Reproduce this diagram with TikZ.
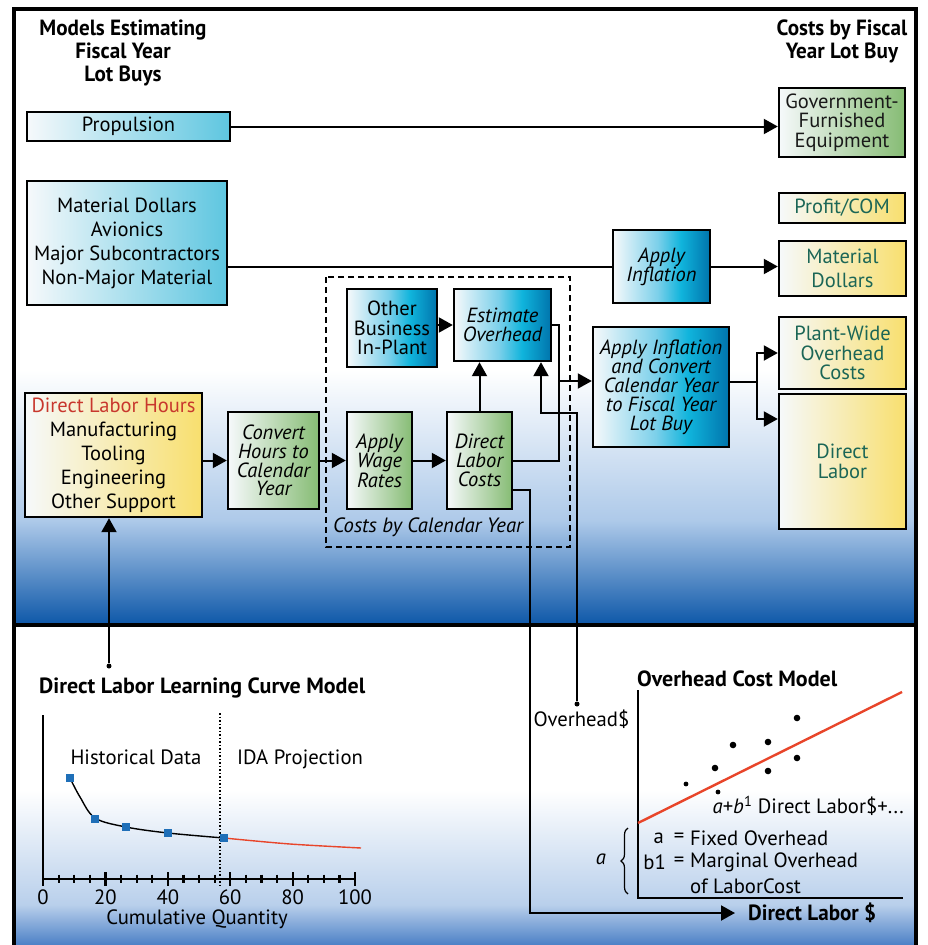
\documentclass[tikz,border=0pt]{standalone}
\usepackage{fontspec}
\setmainfont{PT Sans}
\newfontfamily\headfont[FakeStretch=0.96]{PT Sans}
\usetikzlibrary{arrows.meta,decorations.pathreplacing}

\definecolor{cyanR}{HTML}{5EC6E0}
\definecolor{greenR}{HTML}{86BC74}
\definecolor{yellowR}{HTML}{F8DF6E}
\definecolor{tealtext}{HTML}{1B6656}
\definecolor{redtext}{HTML}{C8372D}
\definecolor{bwhite}{HTML}{F6F9FB}
\definecolor{bmid}{HTML}{7CD0EA}
\definecolor{bcyan}{HTML}{10B4DC}
\definecolor{bdark}{HTML}{0074AC}
\definecolor{bgA}{HTML}{ADC9E9}
\definecolor{bgB}{HTML}{6E9DD6}
\definecolor{bgC}{HTML}{0D57A8}
\definecolor{bgD}{HTML}{B8CFEB}
\definecolor{bgE}{HTML}{4C80C6}
\definecolor{ptblue}{HTML}{1F6FB8}
\definecolor{fitred}{HTML}{E8452A}

\pgfdeclarehorizontalshading{bluegrad}{100bp}{color(0bp)=(bwhite); color(25bp)=(bwhite); color(48bp)=(bmid); color(60bp)=(bcyan); color(75bp)=(bdark); color(100bp)=(bdark)}

\tikzset{
  box/.style={draw=black, line width=2.4pt, inner sep=0pt, align=center,
    font=\fontsize{20.5}{19.5}\selectfont},
  cyanbox/.style={box, left color=bwhite, right color=cyanR},
  greenbox/.style={box, left color=bwhite, right color=greenR},
  yellowbox/.style={box, left color=bwhite, right color=yellowR, text=tealtext},
  bluebox/.style={box, shade, shading=bluegrad},
  widelines/.style={font=\fontsize{20.5}{24}\selectfont},
  ital/.style={font=\fontsize{20.5}{18.8}\selectfont\itshape},
  ln/.style={line width=2pt},
  arr/.style={line width=2pt, -{Triangle[length=14pt,width=15pt]}},
  head/.style={font=\headfont\bfseries\fontsize{22}{23}\selectfont, align=center},
  plain/.style={font=\fontsize{20.7}{24}\selectfont, inner sep=0pt},
  title/.style={font=\bfseries\fontsize{22}{24}\selectfont, anchor=west, inner sep=0pt},
  dotpt/.style={fill=black, circle, inner sep=0pt, minimum size=5pt},
}

\begin{document}
\begin{tikzpicture}[x=1pt,y=-1pt]
\useasboundingbox (0,0) rectangle (927,945);

% ---------- panel backgrounds ----------
\fill[white] (14,9) rectangle (916,945);
\shade[top color=white, bottom color=bgA] (14,370) rectangle (916,522);
\shade[top color=bgA, middle color=bgB, bottom color=bgC] (14,521) rectangle (916,625);
\shade[top color=white, bottom color=bgD] (14,790) rectangle (916,906);
\shade[top color=bgD, bottom color=bgE] (14,905) rectangle (916,945);

% ---------- frame ----------
\draw[line width=3.5pt] (14,950) -- (14,9) -- (916,9) -- (916,950);
\draw[line width=3.5pt] (14,625) -- (916,625);

% ---------- column headings ----------
\node[head] (hl) at (123,52.5) {Models Estimating\\Fiscal Year\\Lot Buys};
\node[head] (hr) at (842,41.5) {Costs by Fiscal\\Year Lot Buy};

% ---------- dashed calendar-year group ----------
\draw[line width=1.8pt, dash pattern=on 6pt off 4pt] (326,277) rectangle (570,547);
\node[font=\fontsize{20.7}{22}\selectfont\itshape, anchor=west, inner sep=0pt] (cal) at (333,527) {Costs by Calendar Year};

% ---------- boxes ----------
\node[cyanbox, minimum width=203pt, minimum height=29pt] (prop) at (128.5,126.5) {Propulsion};
\node[greenbox, minimum width=126pt, minimum height=69pt, text={black!90}] (gfe) at (842,122.5) {Government-\\Furnished\\Equipment};
\node[yellowbox, minimum width=126pt, minimum height=30pt] (profit) at (842,208) {Profit/COM};
\node[cyanbox, widelines, minimum width=200pt, minimum height=124pt] (matL) at (127,243)
  {Material Dollars\\Avionics\\Major Subcontractors\\Non-Major Material};
\node[bluebox, ital, minimum width=97pt, minimum height=73pt] (infl) at (661.5,266.5) {Apply\\Inflation};
\node[yellowbox, widelines, minimum width=127pt, minimum height=55pt] (matR) at (842.5,268.5) {Material\\Dollars};
\node[yellowbox, minimum width=127pt, minimum height=72pt] (plant) at (842.5,353) {Plant-Wide\\Overhead\\Costs};
\node[yellowbox, minimum width=127pt, minimum height=135pt] (dlab) at (842.5,461.5) {Direct\\Labor};
\node[bluebox, ital, minimum width=136pt, minimum height=120pt] (aic) at (661,387)
  {Apply Inflation\\and Convert\\Calendar Year\\to Fiscal Year\\Lot Buy};
\node[bluebox, minimum width=90pt, minimum height=78pt] (other) at (392,328) {Other\\Business\\In-Plant};
\node[bluebox, ital, minimum width=97pt, minimum height=72pt] (estov) at (502.5,325) {Estimate\\Overhead};
\node[greenbox, ital, minimum width=91pt, minimum height=97pt] (conv) at (273.5,460.5)
  {Convert\\Hours to\\Calendar\\Year};
\node[yellowbox, widelines, text=black, minimum width=177pt, minimum height=124pt] (dlh) at (113.5,455)
  {\textcolor{redtext}{Direct Labor Hours}\\Manufacturing\\Tooling\\Engineering\\Other Support};
\node[greenbox, ital, minimum width=65pt, minimum height=97pt] (awr) at (379.5,460.5) {Apply\\Wage\\Rates};
\node[greenbox, ital, minimum width=65pt, minimum height=97pt] (dlc) at (479.5,460.5) {Direct\\Labor\\Costs};

% ---------- junction points ----------
\coordinate (br) at (757,382);
\coordinate (brlo) at (757,419);
\coordinate (j1) at (559,381);
\coordinate (k1) at (541,413);
\coordinate (m1) at (530,913);
\node[dotpt] (ovd) at (577,704) {};
\node[dotpt] (lcd) at (109,666) {};

% ---------- connectors ----------
\draw[arr] (prop.east) -- (prop.east -| gfe.west);
\draw[ln] (infl.west -| matL.east) -- (infl.west);
\draw[arr] (infl.east) -- (infl.east -| matR.west);
\draw[ln] (br -| aic.east) -- (br);
\draw[arr] (br) |- (plant.west);
\draw[arr] (br) -- (brlo) -- (brlo -| dlab.west);
\draw[arr] (conv.west -| dlh.east) -- (conv.west);
\draw[arr] (conv.east) -- (awr.west);
\draw[arr] (awr.east) -- (dlc.west);
\draw[arr] (dlc.north) -- (dlc.north |- estov.south);
\draw[arr] (estov.west -| other.east) -- (estov.west);
\draw[ln] (dlc.east) -| (j1) |- (estov.east);
\draw[arr] (j1) -- (j1 -| aic.west);
\draw[arr] (ovd) |- (k1) -- (k1 |- estov.south);
\draw[arr] (lcd) -- (lcd |- dlh.south);

% ---------- learning curve chart ----------
\node[title] (lct) at (39,688) {Direct Labor Learning Curve Model};
\draw[line width=2.6pt] (43,715) -- (43,879) -- (356,879);
\foreach \q in {0,5,...,100} {
  \pgfmathsetmacro\xx{43+3.12*\q}
  \draw[line width=2.2pt] (\xx,874.5) -- (\xx,883);
}
\foreach \q in {0,20,...,100} {
  \pgfmathsetmacro\xx{43+3.12*\q}
  \draw[line width=2.2pt] (\xx,872) -- (\xx,886);
  \node[plain] at (\xx,897) {\q};
}
\node[plain] (cq) at (197,919) {Cumulative Quantity};
\draw[line width=1.5pt, dotted] (220,713) -- (220,887);
\node[plain] (hist) at (136,757) {Historical Data};
\node[plain] (ida) at (300,759) {IDA Projection};
\draw[line width=1.4pt] plot[smooth, tension=0.55] coordinates {(70,778) (80,797) (95,818) (126,827) (168,833) (224,838)};
\draw[line width=1.4pt, fitred] plot[smooth] coordinates {(224,838) (290,844) (361,848)};
\foreach \p in {(70,778),(95,819),(126,827),(168,833),(224,838)}
  \fill[ptblue] \p ++(-3.6,-3.6) rectangle ++(7.2,7.2);

% ---------- overhead cost model chart ----------
\node[title] (oct) at (637,679) {Overhead Cost Model};
\draw[line width=2.6pt] (638,690) -- (638,898) -- (903,898);
\draw[line width=2.4pt, fitred] (638,823) -- (902,692);
\foreach \p in {(715,768),(733,745),(768,742),(768,771),(797,718),(797,758)}
  \fill \p circle (3.3);
\foreach \p in {(686,784),(718,792)}
  \fill \p circle (2.4);
\node[plain] (ovl) at (581.5,719) {Overhead\$};
\node[plain, anchor=east] (eqn) at (904,806) {\textit{a}+\textit{b}\textsuperscript{1} Direct Labor\$+...};
\node[plain, anchor=east] (la) at (664,838) {a};
\node[plain, anchor=east] (lb) at (666,862) {b1};
\node[plain] (e1) at (679,838) {=};
\node[plain] (e2) at (679,862) {=};
\node[plain, anchor=west] (fo) at (690,838) {Fixed Overhead};
\node[plain, anchor=west] (mo) at (690,862) {Marginal Overhead};
\node[plain, anchor=west] (olc) at (690,886) {of LaborCost};
\draw[line width=1.2pt, decorate, decoration={brace, amplitude=7pt}] (628,894) -- (628,828);
\node[plain, font=\fontsize{20.7}{22}\selectfont\itshape] (aa) at (601,859) {a};

% ---------- direct labor dollars feed ----------
\node[font=\headfont\bfseries\fontsize{22}{23}\selectfont, anchor=west, inner sep=0pt, inner xsep=13pt] (dll) at (735,913) {Direct Labor \$};
\draw[arr] ([yshift=-29.5pt]dlc.east) -| (m1) -- (dll.west);

\end{tikzpicture}
\end{document}
